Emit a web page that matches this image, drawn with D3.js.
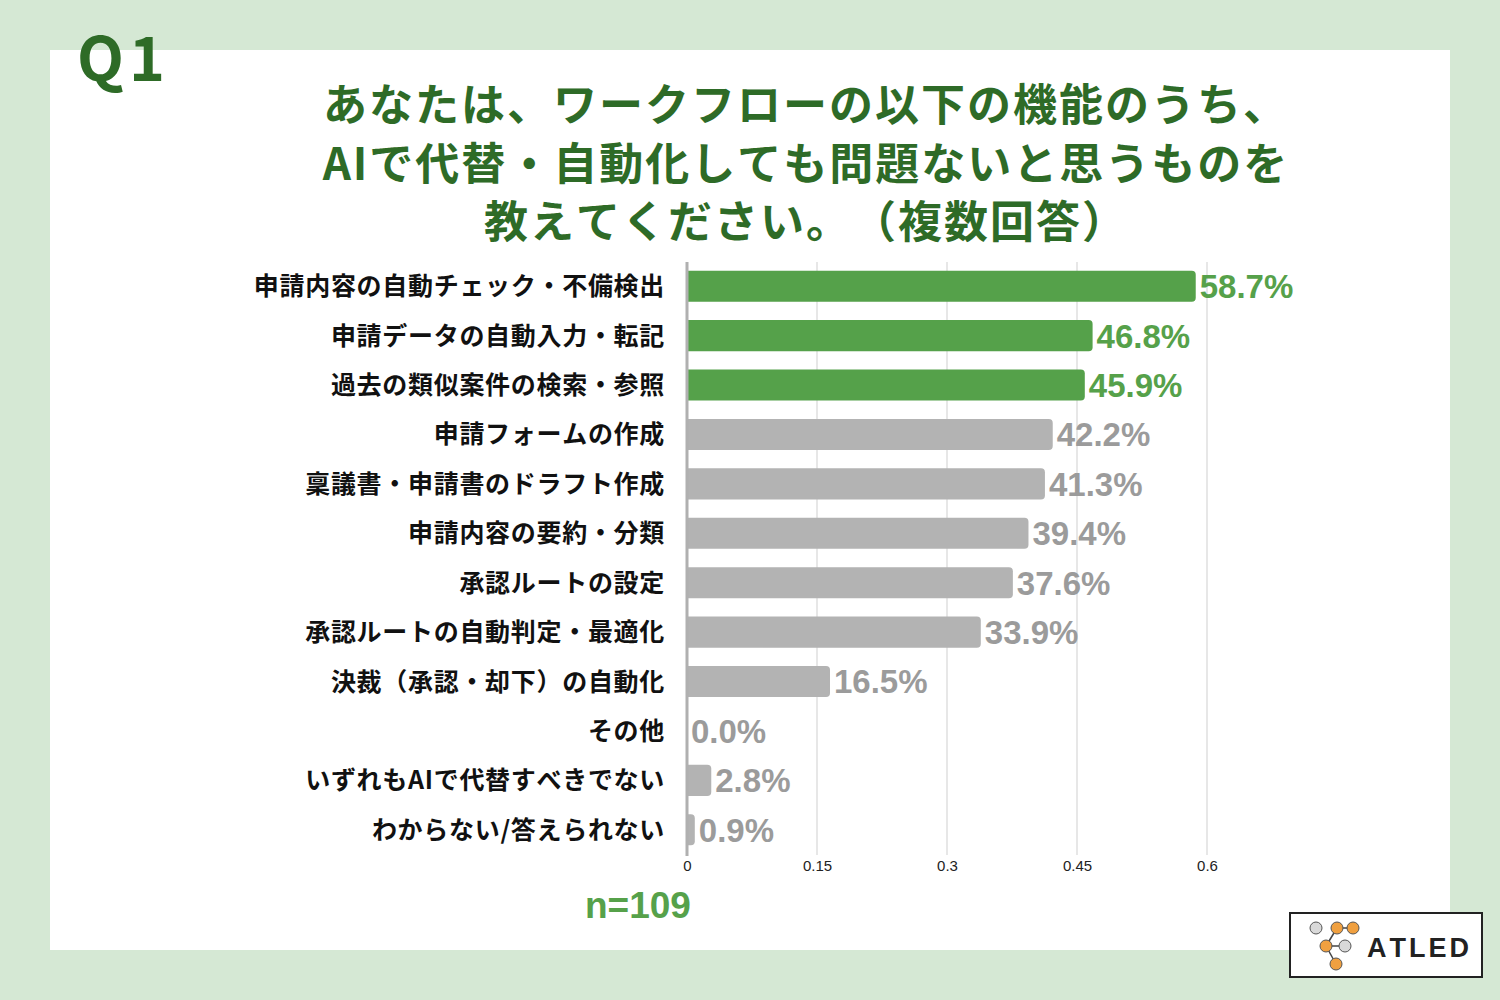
<!DOCTYPE html>
<html><head><meta charset="utf-8">
<script src="https://cdn.jsdelivr.net/npm/d3@7"></script>
<style>
html,body{margin:0;padding:0;background:#d5e8d4;}
svg{display:block;}
svg text{text-spacing-trim: space-all; font-kerning: none;}
</style></head>
<body>
<svg id="chart" width="1500" height="1000"></svg>
<script>
const categories = [
  "申請内容の自動チェック・不備検出",
  "申請データの自動入力・転記",
  "過去の類似案件の検索・参照",
  "申請フォームの作成",
  "稟議書・申請書のドラフト作成",
  "申請内容の要約・分類",
  "承認ルートの設定",
  "承認ルートの自動判定・最適化",
  "決裁（承認・却下）の自動化",
  "その他",
  "いずれもAIで代替すべきでない",
  "わからない/答えられない"
];
const values = [0.587, 0.468, 0.459, 0.422, 0.413, 0.394, 0.376, 0.339, 0.165, 0.0, 0.028, 0.009];
const highlighted = [true, true, true, false, false, false, false, false, false, false, false, false];
const tickValues = [0, 0.15, 0.3, 0.45, 0.6];
const tickLabels = ["0", "0.15", "0.3", "0.45", "0.6"];
const titleLines = [
  "あなたは、ワークフローの以下の機能のうち、",
  "AIで代替・自動化しても問題ないと思うものを",
  "教えてください。（複数回答）"
];
const questionLabel = "Q1";
const sampleLabel = "n=109";
const logoText = "ATLED";

const JP = "'Noto Sans CJK JP','Noto Sans',sans-serif";
const NUM = "'Liberation Sans',Arial,sans-serif";
const svg = d3.select("#chart");

// background + panel
svg.append("rect").attr("x",0).attr("y",0).attr("width",1500).attr("height",1000).attr("fill","#d5e8d4");
svg.append("rect").attr("x",50).attr("y",50).attr("width",1400).attr("height",900).attr("fill","#ffffff");

// Q1
svg.append("text").attr("x",77).attr("y",81).text(questionLabel)
  .attr("font-family","'Noto Sans CJK JP',sans-serif").attr("font-weight",700)
  .attr("font-size",61).attr("fill","#2e6b27").attr("letter-spacing",5);

// title
const titleY = [121, 180, 238];
svg.append("g").selectAll("text").data(titleLines).join("text")
  .attr("x",806).attr("y",(d,i)=>titleY[i]).attr("text-anchor","middle")
  .attr("font-family",JP).attr("font-weight",700).attr("font-size",44)
  .attr("letter-spacing",2).attr("fill","#2e6b27").text(d=>d);

// scales
const x = d3.scaleLinear().domain([0,0.6]).range([687,1207]);
const y = d3.scaleBand().domain(categories).range([261.5,854.5]).paddingInner(0.37).paddingOuter(0.185);

// gridlines
svg.append("g").selectAll("line").data(tickValues.slice(1)).join("line")
  .attr("x1",d=>x(d)).attr("x2",d=>x(d)).attr("y1",262).attr("y2",855)
  .attr("stroke","#cfcfcf").attr("stroke-width",1);

// axis tick labels
const axis = d3.axisBottom(x).tickValues(tickValues).tickFormat((d,i)=>tickLabels[i]).tickSize(0).tickPadding(4);
const ag = svg.append("g").attr("transform","translate(0,856)").call(axis);
ag.select(".domain").remove();
ag.selectAll("text").attr("font-family",NUM).attr("font-size",15).attr("fill","#222");

// bars with right rounded corners
const r = 4;
function barPath(d){
  const x0 = x(0), x1 = x(d.v), yy = y(d.c), h = y.bandwidth();
  const w = x1 - x0;
  if (w <= 0) return "";
  const rr = Math.min(r, w, h/2);
  return `M${x0},${yy}H${x1-rr}Q${x1},${yy} ${x1},${yy+rr}V${yy+h-rr}Q${x1},${yy+h} ${x1-rr},${yy+h}H${x0}Z`;
}
const data = categories.map((c,i)=>({c, v:values[i], hl:highlighted[i]}));
svg.append("g").selectAll("path").data(data).join("path")
  .attr("d",barPath).attr("fill",d=>d.hl?"#55a14a":"#b3b3b3");

// zero axis line
svg.append("line").attr("x1",x(0)).attr("x2",x(0)).attr("y1",262).attr("y2",856)
  .attr("stroke","#b0b0b0").attr("stroke-width",3);

// value labels
svg.append("g").selectAll("text").data(data).join("text")
  .attr("x",d=>x(d.v)+4).attr("y",d=>y(d.c)+y.bandwidth()/2).attr("dy","0.36em")
  .attr("font-family",NUM).attr("font-weight",700).attr("font-size",33)
  .attr("fill",d=>d.hl?"#56a14a":"#9b9b9b").text(d=>(d.v*100).toFixed(1)+"%");

// category labels
svg.append("g").selectAll("text").data(data).join("text")
  .attr("x",665).attr("y",d=>y(d.c)+y.bandwidth()/2).attr("dy","0.36em")
  .attr("text-anchor","end").attr("font-family",JP).attr("font-weight",700)
  .attr("font-size",25).attr("letter-spacing",0.7).attr("fill","#111").text(d=>d.c);

// n=109
svg.append("text").attr("x",585).attr("y",918).text(sampleLabel)
  .attr("font-family",NUM).attr("font-weight",700).attr("font-size",37).attr("fill","#56a14a");

// logo
const lg = svg.append("g");
lg.append("rect").attr("x",1290).attr("y",913).attr("width",192).attr("height",64)
  .attr("fill","#fff").attr("stroke","#222").attr("stroke-width",2);
const nodes = [[1316,928,"#d9d9d9"],[1337,928,"#f0a040"],[1353,928,"#f0a040"],[1326,946,"#f0a040"],[1345,946,"#d9d9d9"],[1336,964,"#f0a040"]];
const links = [[1,2],[1,3],[3,4],[3,5]];
lg.selectAll("line").data(links).join("line")
  .attr("x1",d=>nodes[d[0]][0]).attr("y1",d=>nodes[d[0]][1])
  .attr("x2",d=>nodes[d[1]][0]).attr("y2",d=>nodes[d[1]][1])
  .attr("stroke","#444").attr("stroke-width",1.5);
lg.selectAll("circle").data(nodes).join("circle")
  .attr("cx",d=>d[0]).attr("cy",d=>d[1]).attr("r",6)
  .attr("fill",d=>d[2]).attr("stroke","#555").attr("stroke-width",1);
lg.append("text").attr("x",1367).attr("y",957).text(logoText)
  .attr("font-family",NUM).attr("font-weight",700).attr("font-size",27)
  .attr("letter-spacing",3).attr("fill","#222");
</script>
</body></html>
